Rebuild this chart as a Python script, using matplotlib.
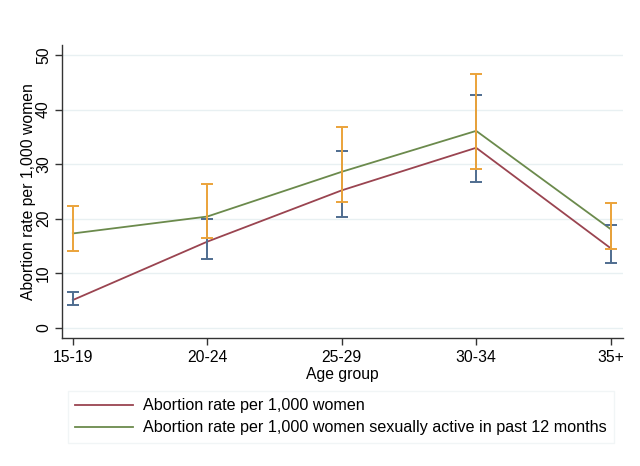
import matplotlib
matplotlib.use('Agg')
import matplotlib.pyplot as plt
import numpy as np

plt.rcParams['font.family'] = ['Liberation Sans', 'DejaVu Sans']

# Data
age_groups = ['15-19', '20-24', '25-29', '30-34', '35+']
rate_all = [5.1, 15.8, 25.2, 33.0, 14.6]
rate_all_lo = [4.1, 12.6, 20.3, 26.8, 11.8]
rate_all_hi = [6.5, 20.0, 32.4, 42.7, 18.9]
rate_active = [17.3, 20.4, 28.6, 36.1, 18.1]
rate_active_lo = [14.0, 16.4, 23.1, 29.2, 14.5]
rate_active_hi = [22.3, 26.4, 36.8, 46.5, 22.9]

red = '#9a4450'
green = '#6b8a4c'
blue = '#4f6d8f'
orange = '#eba33a'

fig = plt.figure(figsize=(6.4, 4.66), dpi=100)
ax = fig.add_axes([0.097, 0.275, 0.876, 0.628])

x = np.arange(len(age_groups))

l1, = ax.plot(x, rate_all, color=red, lw=1.3, zorder=3)
l2, = ax.plot(x, rate_active, color=green, lw=1.3, zorder=3)

ax.errorbar(x, rate_all,
            yerr=[np.array(rate_all) - np.array(rate_all_lo),
                  np.array(rate_all_hi) - np.array(rate_all)],
            fmt='none', ecolor=blue, elinewidth=1.4, capsize=4, capthick=1.4, zorder=4)
ax.errorbar(x, rate_active,
            yerr=[np.array(rate_active) - np.array(rate_active_lo),
                  np.array(rate_active_hi) - np.array(rate_active)],
            fmt='none', ecolor=orange, elinewidth=1.4, capsize=4, capthick=1.4, zorder=5)

ax.set_xlim(-0.08, 4.09)
ax.set_ylim(-1.83, 51.8)
ax.set_xticks(x)
ax.set_xticklabels(age_groups, fontsize=11.3)
ax.set_yticks([0, 10, 20, 30, 40, 50])
ax.set_yticklabels(['0', '10', '20', '30', '40', '50'], fontsize=11.3,
                   rotation=90, va='center')
ax.tick_params(axis='both', direction='out', length=5, width=1, color='#333333')
ax.tick_params(axis='x', pad=4)
ax.tick_params(axis='y', pad=3)

ax.grid(axis='y', color='#e8f0f2', lw=1)
ax.set_axisbelow(True)
for s in ['top', 'right']:
    ax.spines[s].set_visible(False)
for s in ['left', 'bottom']:
    ax.spines[s].set_color('#333333')
    ax.spines[s].set_linewidth(1)

ax.set_xlabel('Age group', fontsize=11.3, labelpad=1)
ax.set_ylabel('Abortion rate per 1,000 women', fontsize=11.3, labelpad=0)

leg = fig.legend([l1, l2],
                 ['Abortion rate per 1,000 women',
                  'Abortion rate per 1,000 women sexually active in past 12 months'],
                 loc='upper left', bbox_to_anchor=(0.106, 0.161), bbox_transform=fig.transFigure,
                 borderaxespad=0, fontsize=11.6, frameon=True, fancybox=False,
                 handlelength=3.6, handletextpad=0.62, labelspacing=0.45, borderpad=0.45)
leg.get_frame().set_edgecolor('#eef3f4')
leg.get_frame().set_linewidth(1)

fig.savefig('out.png', dpi=100, facecolor='white')
